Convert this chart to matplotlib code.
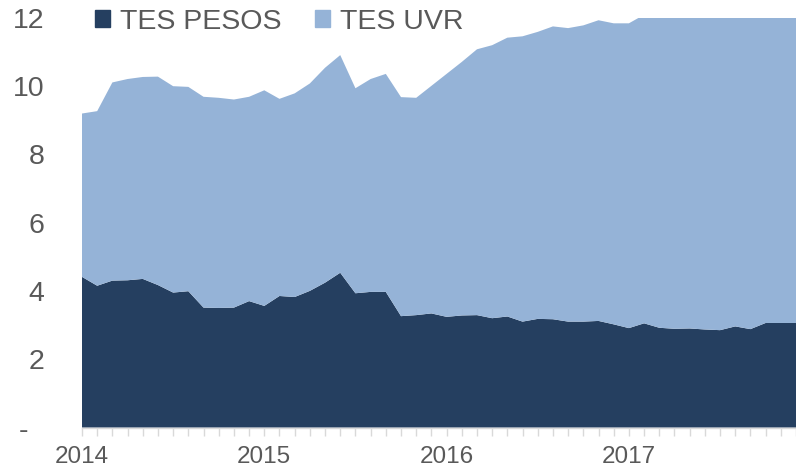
import matplotlib.pyplot as plt
import numpy as np
from matplotlib.patches import Patch

plt.rcParams['font.family'] = ['Liberation Sans', 'DejaVu Sans']

# monthly data, Jan 2014 - Dec 2017 (billions)
months = np.arange(48)
years = ['2014', '2015', '2016', '2017']

tes_pesos = [4.41, 4.15, 4.30, 4.31, 4.35, 4.17, 3.95, 3.99, 3.51, 3.50, 3.51, 3.70,
             3.56, 3.85, 3.82, 4.00, 4.24, 4.53, 3.93, 3.97, 3.97, 3.26, 3.29, 3.34,
             3.24, 3.28, 3.29, 3.20, 3.25, 3.10, 3.18, 3.17, 3.10, 3.10, 3.12, 3.02,
             2.91, 3.05, 2.92, 2.89, 2.90, 2.87, 2.85, 2.96, 2.88, 3.06, 3.06, 3.06]
tes_uvr = [4.78, 5.11, 5.80, 5.89, 5.91, 6.10, 6.04, 5.98, 6.17, 6.15, 6.09, 5.98,
           6.31, 5.77, 5.96, 6.07, 6.29, 6.37, 6.00, 6.23, 6.38, 6.41, 6.36, 6.66,
           7.11, 7.42, 7.78, 7.99, 8.16, 8.35, 8.40, 8.57, 8.59, 8.67, 8.80, 8.81,
           8.92, 9.03, 9.38, 9.51, 9.50, 9.63, 9.65, 9.64, 9.72, 9.64, 9.64, 9.74]

c_pesos = '#253F60'
c_uvr = '#95B3D7'
grey = '#595959'

fig = plt.figure(figsize=(7.96, 4.67), dpi=100)
ax = fig.add_axes([0.103, 0.0845, 0.897, 0.878])

ax.stackplot(months, tes_pesos, tes_uvr, colors=[c_pesos, c_uvr], linewidth=0)

ax.set_xlim(0, 46.57)
ax.set_ylim(0, 12)

ax.set_yticks([0, 2, 4, 6, 8, 10, 12])
ax.set_yticklabels(['-  ', '2', '4', '6', '8', '10', '12'])
ax.tick_params(axis='y', length=0, pad=27, labelsize=20.5, labelcolor=grey)

ax.set_xticks([0, 12, 24, 36])
ax.set_xticklabels(years)
ax.set_xticks(months, minor=True)
ax.tick_params(axis='x', which='both', length=6, width=1, color='#D9D9D9',
               direction='out', labelsize=17.5, labelcolor=grey, pad=7)

for s in ['top', 'right', 'left']:
    ax.spines[s].set_visible(False)
ax.spines['bottom'].set_color('#D9D9D9')
ax.spines['bottom'].set_linewidth(1)

handles = [Patch(color=c_pesos, label='TES PESOS'), Patch(color=c_uvr, label='TES UVR')]
fig.legend(handles=handles, loc='center left', bbox_to_anchor=(0.119, 0.953),
           ncol=2, frameon=False, fontsize=20.5, labelcolor=grey,
           handlelength=0.55, handleheight=0.55, handletextpad=0.35,
           columnspacing=1.15, borderaxespad=0, borderpad=0)

fig.savefig('out.png', dpi=100)
